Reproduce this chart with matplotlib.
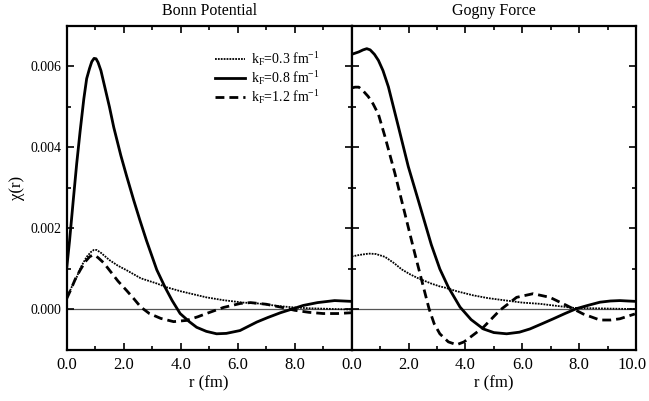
import matplotlib
matplotlib.use("Agg")
import matplotlib.pyplot as plt
from matplotlib.ticker import MultipleLocator, FixedLocator, FixedFormatter
from matplotlib.transforms import ScaledTranslation

plt.rcParams['font.family'] = ['Liberation Serif', 'DejaVu Serif']
plt.rcParams['mathtext.fontset'] = 'custom'
plt.rcParams['mathtext.rm'] = 'Liberation Serif'
plt.rcParams['mathtext.it'] = 'Liberation Serif:italic'

# --- data ---
panel_titles = ["Bonn Potential", "Gogny Force"]
series_labels = [r"k$_\mathrm{F}$=0.3 fm$^{-1}$",
                 r"k$_\mathrm{F}$=0.8 fm$^{-1}$",
                 r"k$_\mathrm{F}$=1.2 fm$^{-1}$"]

# Bonn potential
r_bonn_03 = [0, 0.15, 0.35, 0.5, 0.7, 0.85, 0.95, 1.05, 1.2, 1.5, 1.8, 2.1, 2.6, 3.17,
             3.5, 4.0, 4.9, 5.5, 6.2, 6.7, 7.5, 8.0, 8.5, 9.0, 10.0]
chi_bonn_03 = [0.00027, 0.00052, 0.0008, 0.00105, 0.0013, 0.00142, 0.00147, 0.00147,
               0.0014, 0.00122, 0.00108, 0.00097, 0.00077, 0.00064, 0.00055, 0.00045,
               0.0003, 0.00023, 0.00017, 0.00015, 0.00008, 0.00005, 0.00003, 0.00002,
               0.0]

r_bonn_08 = [0, 0.1, 0.23, 0.35, 0.47, 0.6, 0.7, 0.8, 0.88, 0.96, 1.03, 1.1, 1.2, 1.3,
             1.5, 1.65, 1.9, 2.1, 2.35, 2.57, 2.8, 3.0, 3.16, 3.45, 3.7, 3.98, 4.3, 4.56,
             4.9, 5.26, 5.6, 6.08, 6.67, 7.05, 7.5, 7.86, 8.3, 8.8, 9.4, 10.0]
chi_bonn_08 = [0.00102, 0.0017, 0.0027, 0.0036, 0.0044, 0.0052, 0.0057, 0.00595,
               0.00612, 0.0062, 0.00619, 0.0061, 0.0059, 0.0056, 0.005, 0.0045, 0.0038,
               0.0033, 0.0027, 0.0022, 0.0017, 0.0013, 0.00098, 0.00055, 0.00022,
               -0.0001, -0.0003, -0.00044, -0.00054, -0.0006, -0.00059, -0.00052,
               -0.00031, -0.0002, -0.00008, 0.0, 0.0001, 0.00017, 0.00022, 0.0002]

r_bonn_12 = [0, 0.15, 0.3, 0.47, 0.65, 0.8, 0.9, 1.0, 1.1, 1.3, 1.5, 1.8, 2.1, 2.35,
             2.6, 2.9, 3.3, 3.75, 4.2, 4.6, 4.9, 5.5, 6.1, 6.45, 7.0, 7.5, 8.0, 8.5,
             9.0, 9.5, 10.0]
chi_bonn_12 = [0.00027, 0.0005, 0.00075, 0.00097, 0.00118, 0.0013, 0.00134, 0.00133,
               0.00128, 0.00115, 0.00097, 0.0007, 0.00047, 0.00027, 0.00006, -0.0001,
               -0.00022, -0.0003, -0.00027, -0.00018, -0.0001, 0.00005, 0.00015,
               0.00017, 0.00013, 0.00006, -0.00002, -0.00007, -0.0001, -0.0001,
               -0.00008]

# Gogny force
r_gogny_03 = [0, 0.3, 0.6, 0.85, 1.17, 1.5, 1.76, 2.05, 2.34, 2.8, 3.1, 3.28, 3.7,
              4.27, 4.8, 5.45, 6.0, 6.62, 7.2, 7.8, 8.5, 9.2, 10.0]
chi_gogny_03 = [0.00131, 0.00135, 0.00138, 0.00137, 0.0013, 0.00114, 0.00099, 0.00087,
                0.00077, 0.00064, 0.00057, 0.00054, 0.00045, 0.00035, 0.00028, 0.00022,
                0.00017, 0.00014, 0.00009, 0.00004, 0.00003, 0.00002, 0.00001]

r_gogny_08 = [0, 0.25, 0.4, 0.53, 0.65, 0.8, 0.94, 1.1, 1.29, 1.64, 1.99, 2.34, 2.8,
              3.1, 3.4, 3.81, 4.2, 4.63, 5.0, 5.45, 5.9, 6.27, 6.7, 7.09, 7.5, 7.9,
              8.3, 8.73, 9.1, 9.43, 9.7, 10.0]
chi_gogny_08 = [0.0063, 0.00636, 0.00641, 0.00644, 0.00641, 0.0063, 0.00615, 0.0059,
                0.0055, 0.00452, 0.00353, 0.0027, 0.0016, 0.001, 0.00055, 0.00006,
                -0.00025, -0.00048, -0.00057, -0.0006, -0.00056, -0.00048, -0.00035,
                -0.00023, -0.0001, 0.00002, 0.0001, 0.00018, 0.00021, 0.00022,
                0.00021, 0.0002]

r_gogny_12 = [0, 0.12, 0.25, 0.4, 0.58, 0.75, 0.94, 1.17, 1.52, 1.87, 2.22, 2.58,
              2.72, 2.9, 3.1, 3.4, 3.69, 3.95, 4.16, 4.63, 5.21, 5.8, 6.38, 6.97,
              7.56, 8.14, 8.73, 9.1, 9.43, 9.96]
chi_gogny_12 = [0.00547, 0.00549, 0.00549, 0.0054, 0.00526, 0.00508, 0.00482,
                0.00427, 0.00336, 0.00237, 0.00138, 0.0004, 0.00002, -0.00035,
                -0.0006, -0.0008, -0.00087, -0.0008, -0.00069, -0.00044, -0.00002,
                0.0003, 0.00039, 0.0003, 0.0001, -0.00011, -0.00026, -0.00026,
                -0.00023, -0.00011]

x_ticks = [0, 2, 4, 6, 8, 10]
y_ticks = [0.0, 0.002, 0.004, 0.006]

styles = [dict(color='black', lw=1.3, ls=(0, (1, 0.6))),
          dict(color='black', lw=2.0, ls='-'),
          dict(color='black', lw=2.0, ls=(0, (3.2, 1.8)))]

fig = plt.figure(figsize=(6.49, 4.01), dpi=100)
ax1 = fig.add_axes([0.1028, 0.1272, 0.4391, 0.808])
ax2 = fig.add_axes([0.5419, 0.1272, 0.4381, 0.808])

panels = [
    (ax1, [(r_bonn_03, chi_bonn_03), (r_bonn_08, chi_bonn_08), (r_bonn_12, chi_bonn_12)]),
    (ax2, [(r_gogny_03, chi_gogny_03), (r_gogny_08, chi_gogny_08), (r_gogny_12, chi_gogny_12)]),
]

for i, (ax, curves) in enumerate(panels):
    ax.axhline(0, color='#555555', lw=0.9, zorder=1)
    for (r, chi), st, lab in zip(curves, styles, series_labels):
        ax.plot(r, chi, label=lab, zorder=3, **st)
    ax.set_xlim(0, 10)
    ax.set_ylim(-0.001, 0.007)
    ax.set_title(panel_titles[i], fontsize=11.5, pad=8)
    ax.set_xlabel("r (fm)", fontsize=12, labelpad=2)
    ax.xaxis.set_major_locator(FixedLocator(x_ticks))
    ax.xaxis.set_minor_locator(MultipleLocator(1))
    ax.yaxis.set_major_locator(FixedLocator(y_ticks))
    ax.yaxis.set_minor_locator(MultipleLocator(0.001))
    ax.tick_params(which='both', direction='in', top=True, right=True, width=1.2)
    ax.tick_params(which='major', length=5)
    ax.tick_params(which='minor', length=3)
    ax.tick_params(axis='x', labelsize=12, pad=5)
    ax.tick_params(axis='y', labelsize=10)
    for sp in ax.spines.values():
        sp.set_linewidth(1.6)

ax1.xaxis.set_major_formatter(FixedFormatter(["0.0", "2.0", "4.0", "6.0", "8.0", ""]))
ax2.xaxis.set_major_formatter(FixedFormatter(["0.0", "2.0", "4.0", "6.0", "8.0", "10.0"]))
ax1.yaxis.set_major_formatter(FixedFormatter(["0.000", "0.002", "0.004", "0.006"]))
ax2.tick_params(axis='y', labelleft=False)
ax1.set_ylabel("χ(r)", fontsize=12, labelpad=4)

# nudge the last label so it stays inside the figure
last = ax2.xaxis.get_major_ticks()[-1].label1
last.set_transform(last.get_transform() + ScaledTranslation(-3 / 72, 0, fig.dpi_scale_trans))

ax1.legend(loc='upper left', bbox_to_anchor=(0.52, 0.925), frameon=False,
           fontsize=10, handlelength=2.2, handletextpad=0.4, labelspacing=0.05,
           borderpad=0, borderaxespad=0)

fig.savefig("out.png", dpi=100)
